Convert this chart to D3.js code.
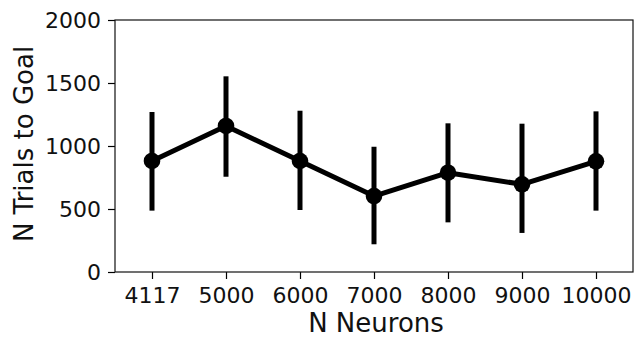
<!DOCTYPE html>
<html>
<head>
<meta charset="utf-8">
<script src="https://cdn.jsdelivr.net/npm/d3@7"></script>
<style>
  html, body { margin: 0; padding: 0; background: #fff; }
  svg { display: block; }
  svg text { font-family: "DejaVu Sans", sans-serif; }
</style>
</head>
<body>
<script>
// data
var categories = ['4117', '5000', '6000', '7000', '8000', '9000', '10000'];
var means = [881, 1159, 881, 603, 788, 696, 878];
var lows = [487, 756, 492, 220, 394, 310, 487];
var highs = [1270, 1553, 1280, 994, 1180, 1177, 1275];
var yTicks = [0, 500, 1000, 1500, 2000];

var width = 634, height = 337;
var mLeft = 115, mRight = 633, mTop = 20, mBottom = 272;

var svg = d3.select('body').append('svg')
    .attr('width', width)
    .attr('height', height);

var x = d3.scalePoint()
    .domain(categories)
    .range([mLeft, mRight])
    .padding(0.5);

var y = d3.scaleLinear()
    .domain([0, 2000])
    .range([mBottom, mTop]);

// axes
var xAxis = svg.append('g')
    .attr('transform', 'translate(0,' + mBottom + ')')
    .call(d3.axisBottom(x).tickSize(7).tickPadding(8).tickSizeOuter(0));
var yAxis = svg.append('g')
    .attr('transform', 'translate(' + mLeft + ',0)')
    .call(d3.axisLeft(y).tickValues(yTicks).tickFormat(d3.format('d'))
        .tickSize(7).tickPadding(7).tickSizeOuter(0));

[xAxis, yAxis].forEach(function(g) {
    g.attr('font-family', null).attr('font-size', null);
    g.select('.domain').remove();
    g.selectAll('.tick line').attr('stroke', '#000').attr('stroke-width', 1.2);
    g.selectAll('.tick text')
        .attr('fill', '#111')
        .style('font-size', '22px');
});

// frame
svg.append('rect')
    .attr('x', mLeft)
    .attr('y', mTop)
    .attr('width', mRight - mLeft)
    .attr('height', mBottom - mTop)
    .attr('fill', 'none')
    .attr('stroke', '#111')
    .attr('stroke-width', 1.2);

// error bars
var idx = d3.range(categories.length);
svg.append('g').selectAll('line')
    .data(idx)
    .enter().append('line')
    .attr('x1', function(i) { return x(categories[i]); })
    .attr('x2', function(i) { return x(categories[i]); })
    .attr('y1', function(i) { return y(lows[i]); })
    .attr('y2', function(i) { return y(highs[i]); })
    .attr('stroke', '#000')
    .attr('stroke-width', 5);

// mean line
var line = d3.line()
    .x(function(i) { return x(categories[i]); })
    .y(function(i) { return y(means[i]); });

svg.append('path')
    .datum(idx)
    .attr('d', line)
    .attr('fill', 'none')
    .attr('stroke', '#000')
    .attr('stroke-width', 5)
    .attr('stroke-linejoin', 'round');

svg.append('g').selectAll('circle')
    .data(idx)
    .enter().append('circle')
    .attr('cx', function(i) { return x(categories[i]); })
    .attr('cy', function(i) { return y(means[i]); })
    .attr('r', 8.3)
    .attr('fill', '#000');

// axis labels
svg.append('text')
    .attr('x', (mLeft + mRight) / 2 + 2)
    .attr('y', 332)
    .attr('text-anchor', 'middle')
    .attr('fill', '#111')
    .style('font-size', '26px')
    .text('N Neurons');

svg.append('text')
    .attr('transform', 'translate(33,' + ((mTop + mBottom) / 2 - 2) + ') rotate(-90)')
    .attr('text-anchor', 'middle')
    .attr('fill', '#111')
    .style('font-size', '26px')
    .text('N Trials to Goal');
</script>
</body>
</html>
